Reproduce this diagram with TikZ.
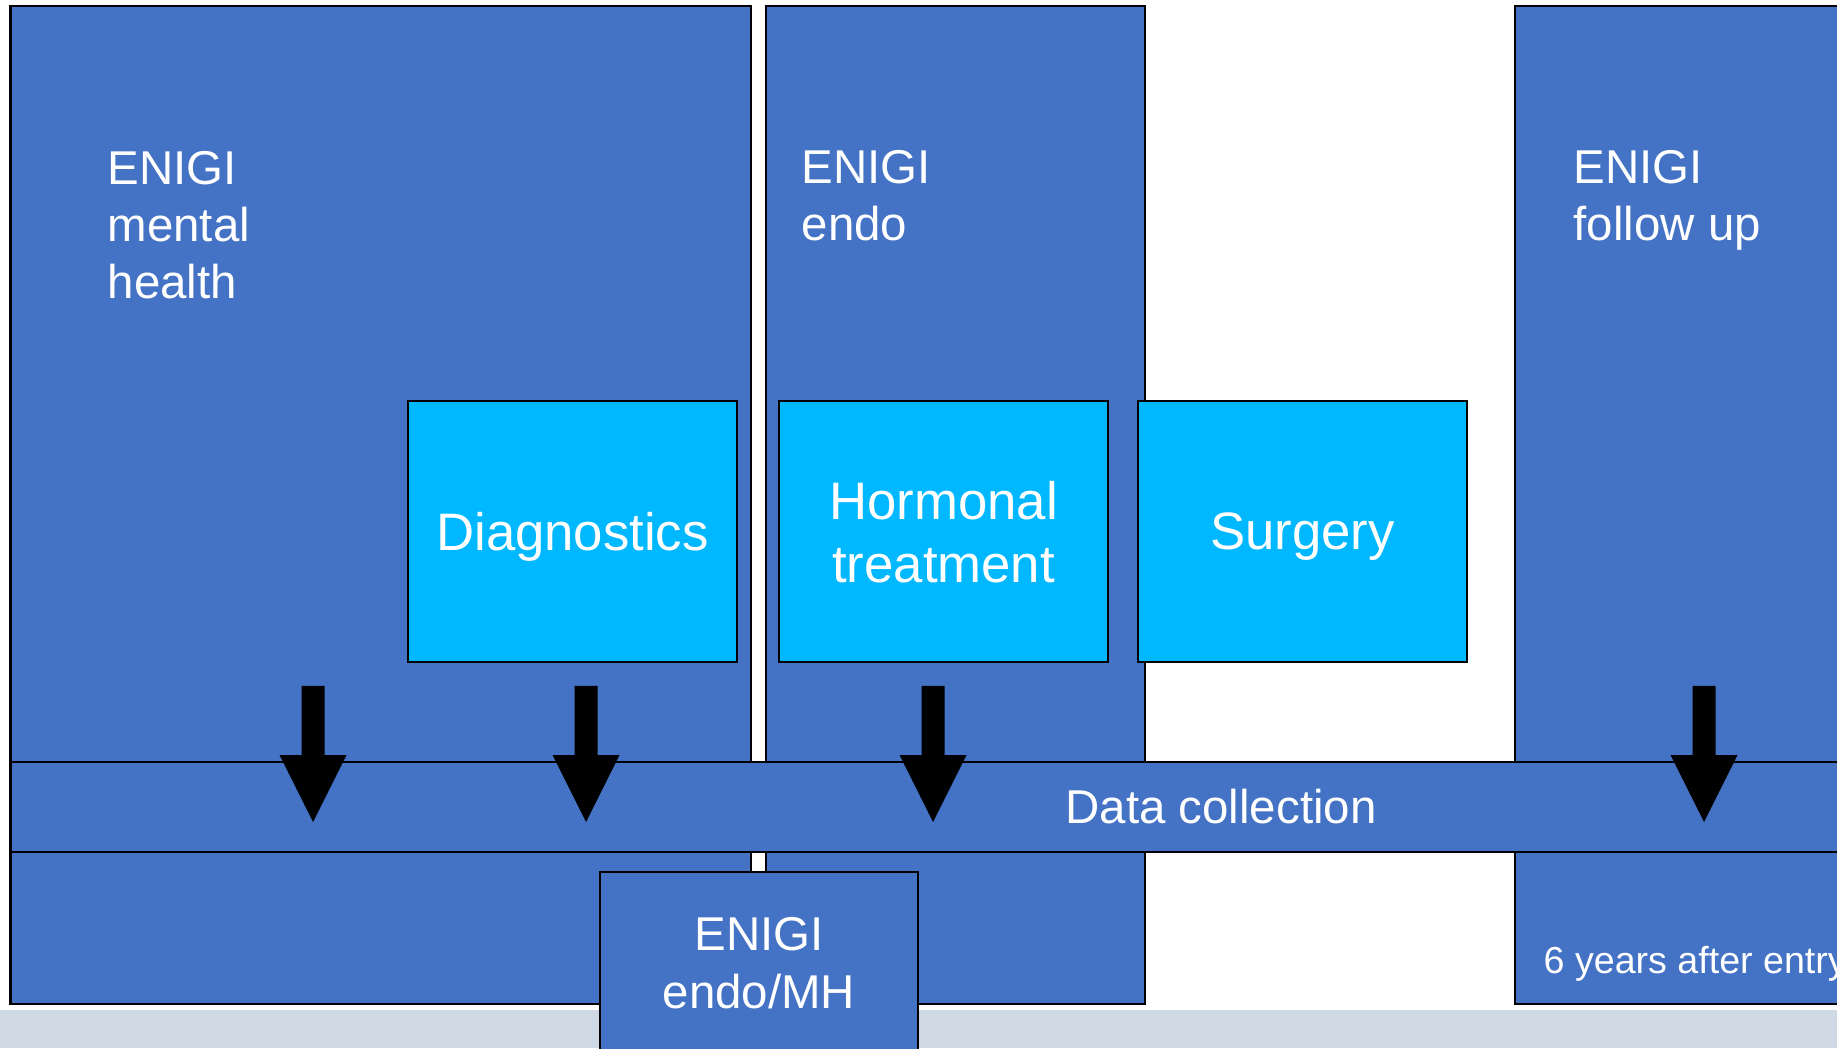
\documentclass[tikz,border=0pt]{standalone}
\usepackage{fontspec}
\setmainfont{Liberation Sans}
\definecolor{enigiblue}{HTML}{4472C4}
\definecolor{stepcyan}{HTML}{00B8FF}
\definecolor{footgrey}{HTML}{CFD9E4}

\begin{document}
\begin{tikzpicture}[
    phase/.style={draw=black,line width=0.6pt,fill=enigiblue,inner sep=0pt,outer sep=0pt},
    treat/.style={draw=black,line width=0.6pt,fill=stepcyan,text=white,
      minimum width=3.29cm,minimum height=2.61cm,inner sep=0pt,align=center,
      text depth=0pt,font=\fontsize{15}{17.9}\selectfont},
    phasetext/.style={text=white,inner sep=0pt,align=left,anchor=base west,
      font=\fontsize{13.5}{16.3}\selectfont}]
  \clip (0,0) rectangle (18.37,10.48);
  \fill[white] (0,0) rectangle (18.37,10.48);
  \fill[footgrey] (0,0) rectangle (18.37,0.38);
  \node[phase,anchor=south west,minimum width=7.405cm,minimum height=9.98cm] (mh) at (0.105,0.44) {};
  \node[phase,anchor=south west,minimum width=3.79cm,minimum height=9.98cm] (endo) at (7.66,0.44) {};
  \node[phase,anchor=south west,minimum width=4.0cm,minimum height=9.98cm] (fu) at (15.15,0.44) {};
  \node[phasetext] (mhlabel) at (1.07,7.49) {ENIGI\\mental\\health};
  \node[phasetext] (endolabel) at (8.01,8.07) {ENIGI\\endo};
  \node[phasetext] (fulabel) at (15.73,8.07) {ENIGI\\follow up};
  \node[treat] (diag) at (5.725,5.165) {Diagnostics};
  \node[treat] (horm) at (9.435,5.165) {Hormonal\\treatment};
  \node[treat] (surg) at (13.025,5.165) {Surgery};
  \node[phase,minimum width=24.2cm,minimum height=0.905cm,text=white,
    font=\fontsize{13.5}{16.3}\selectfont] (data) at (12.21,2.41) {Data collection};
  \node[phase,anchor=north,minimum width=3.18cm,minimum height=1.82cm,text=white,align=center,
    font=\fontsize{13.5}{16.5}\selectfont] (endomh) at (7.59,1.76) {ENIGI\\endo/MH};
  \node[text=white,inner sep=0pt,anchor=base west,font=\fontsize{10.7}{12.8}\selectfont]
    (fuyears) at (15.43,0.75) {6 years after entry};
  \foreach \x in {3.13,5.86,9.33,17.04}
    \fill (\x-0.115,3.62) -- (\x+0.115,3.62) -- (\x+0.115,2.93) -- (\x+0.335,2.93)
      -- (\x,2.26) -- (\x-0.335,2.93) -- (\x-0.115,2.93) -- cycle;
\end{tikzpicture}
\end{document}
